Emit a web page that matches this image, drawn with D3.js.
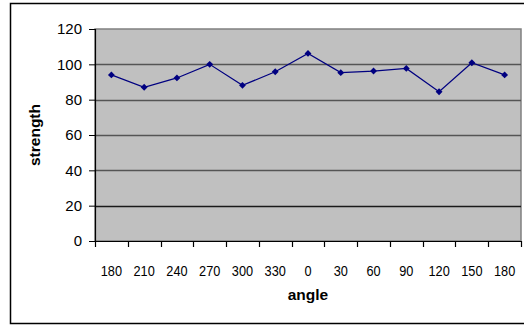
<!DOCTYPE html>
<html>
<head>
<meta charset="utf-8">
<script src="https://cdn.jsdelivr.net/npm/d3@7"></script>
<style>
  html, body { margin: 0; padding: 0; background: #fff; }
  svg { display: block; }
  text { font-family: "Liberation Sans", Arial, sans-serif; fill: #000; }
</style>
</head>
<body>
<div id="chart"></div>
<script>
// Angle categories along the x axis (a full turn from 180 back to 180)
const angles = ["180", "210", "240", "270", "300", "330", "0", "30", "60", "90", "120", "150", "180"];
// Measured strength at each angle
const strength = [94, 87, 92.3, 100, 88.1, 95.8, 106.2, 95.3, 96.2, 97.7, 84.5, 100.9, 94];
// Value-axis ticks
const yTicks = [0, 20, 40, 60, 80, 100, 120];

const W = 524, H = 326;
const plot = { left: 95, right: 521, top: 29, bottom: 241 };

const svg = d3.select("#chart").append("svg")
  .attr("width", W).attr("height", H);

// Chart frame
svg.append("rect")
  .attr("x", 10.5).attr("y", 3.5)
  .attr("width", W + 10).attr("height", 320)
  .attr("fill", "#fff").attr("stroke", "#000").attr("stroke-width", 1.5);

// Category band scale: points sit in the middle of each band, ticks on band edges
const x = d3.scaleBand()
  .domain(d3.range(angles.length))
  .range([plot.left, plot.right])
  .paddingInner(0).paddingOuter(0);

const y = d3.scaleLinear().domain([0, 120]).range([plot.bottom, plot.top]);

// Plot background
svg.append("rect")
  .attr("x", plot.left).attr("y", plot.top)
  .attr("width", plot.right - plot.left).attr("height", plot.bottom - plot.top)
  .attr("fill", "#c0c0c0").attr("stroke", "#808080").attr("stroke-width", 1.5);

// Horizontal gridlines
svg.append("g").selectAll("line")
  .data(yTicks.filter(d => d > 0 && d < 120))
  .join("line")
  .attr("x1", plot.left).attr("x2", plot.right)
  .attr("y1", d => Math.round(y(d)) + 0.5).attr("y2", d => Math.round(y(d)) + 0.5)
  .attr("stroke", d => d === 20 ? "#1a1a1a" : "#555")
  .attr("stroke-width", 1.5);

// Y axis
const yAxis = svg.append("g")
  .attr("transform", `translate(${plot.left},0)`)
  .call(d3.axisLeft(y).tickValues(yTicks).tickSize(6).tickPadding(7).tickFormat(d3.format("d")));
yAxis.select(".domain").attr("stroke", "#000").attr("stroke-width", 1.2);
yAxis.selectAll(".tick line").attr("stroke", "#000");
yAxis.selectAll("text").attr("font-size", 15).attr("font-family", "Liberation Sans, Arial, sans-serif");

// X axis: ticks on band boundaries, labels centred in bands
const edges = d3.range(angles.length + 1).map(i => plot.left + i * x.bandwidth());
const xg = svg.append("g");
xg.append("line")
  .attr("x1", plot.left).attr("x2", plot.right)
  .attr("y1", plot.bottom + 0.5).attr("y2", plot.bottom + 0.5)
  .attr("stroke", "#000").attr("stroke-width", 1.2);
xg.selectAll("line.tick").data(edges).join("line")
  .attr("class", "tick")
  .attr("x1", d => Math.round(d) + 0.5).attr("x2", d => Math.round(d) + 0.5)
  .attr("y1", plot.bottom).attr("y2", plot.bottom + 6)
  .attr("stroke", "#000").attr("stroke-width", 1.2);
xg.selectAll("text").data(angles).join("text")
  .attr("transform", (d, i) => `translate(${x(i) + x.bandwidth() / 2},276) scale(0.85,1)`)
  .attr("text-anchor", "middle")
  .attr("font-size", 15)
  .text(d => d);

// Axis titles
svg.append("text")
  .attr("transform", "translate(40,135) rotate(-90)")
  .attr("text-anchor", "middle")
  .attr("font-size", 15.5).attr("font-weight", "bold")
  .text("strength");
svg.append("text")
  .attr("x", 308).attr("y", 300)
  .attr("text-anchor", "middle")
  .attr("font-size", 15.5).attr("font-weight", "bold")
  .text("angle");

// Strength line
const cx = i => x(i) + x.bandwidth() / 2;
svg.append("path")
  .datum(strength)
  .attr("fill", "none")
  .attr("stroke", "#000080")
  .attr("stroke-width", 1.2)
  .attr("d", d3.line().x((d, i) => cx(i)).y(d => y(d)));

// Diamond markers
svg.append("g").selectAll("path")
  .data(strength)
  .join("path")
  .attr("transform", (d, i) => `translate(${cx(i)},${y(d)})`)
  .attr("d", d3.symbol().type(d3.symbolDiamond2).size(30))
  .attr("fill", "#000080");
</script>
</body>
</html>
